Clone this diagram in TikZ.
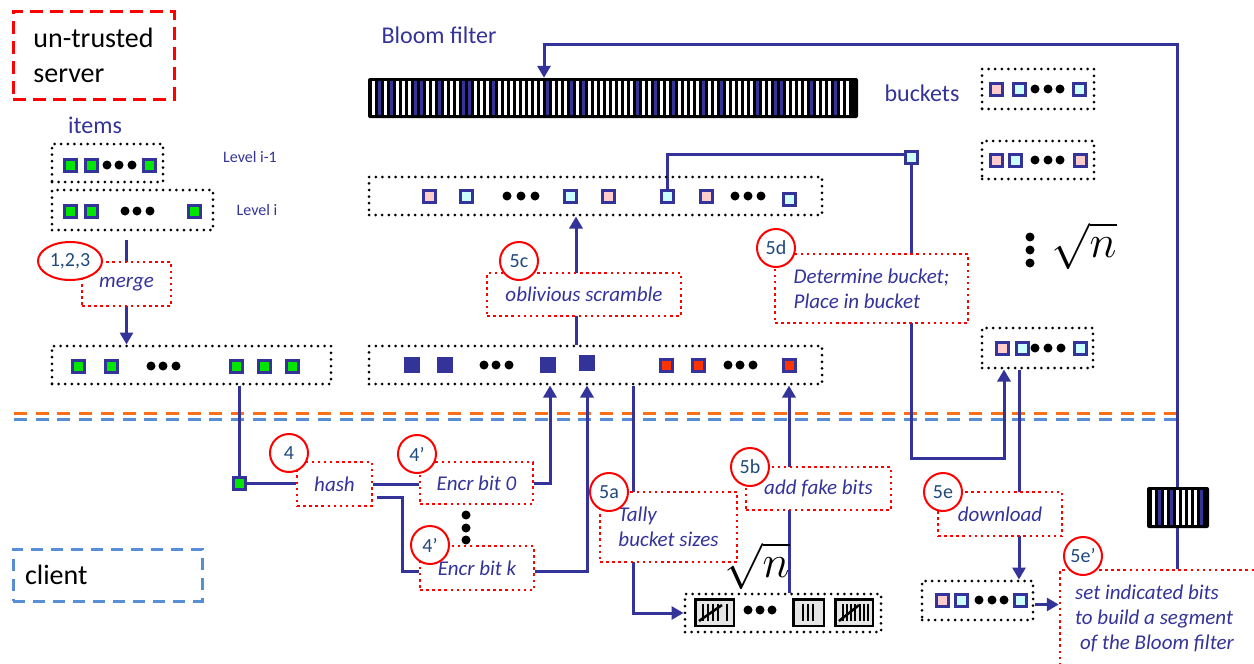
\documentclass[tikz,border=0pt]{standalone}
\usepackage{fix-cm}
\usepackage{fontspec}
\setmainfont{Carlito}
\usetikzlibrary{arrows.meta,calc,shapes.geometric}
\definecolor{navy}{RGB}{51,51,153}
\definecolor{stepblue}{RGB}{31,73,125}
\definecolor{sepOrange}{RGB}{250,112,25}
\definecolor{sepBlue}{RGB}{88,142,214}
\definecolor{pinkfill}{RGB}{255,204,204}
\definecolor{cyanfill}{RGB}{204,255,255}
\definecolor{itemgreen}{RGB}{0,230,0}
\definecolor{fakered}{RGB}{255,51,0}
\pgfdeclarelayer{back}
\pgfsetlayers{back,main}
\newcommand\lbfont{\fontsize{21}{25}\selectfont\itshape}
\begin{document}
\begin{tikzpicture}[x=1pt,y=-1pt,
  dotbox/.style={draw=black,line width=3pt,dash pattern=on 0pt off 6.6pt,line cap=round,inner sep=0pt},
  redbox/.style={draw=red,line width=2.5pt,dash pattern=on 2.5pt off 3.6pt,fill=white,inner sep=0pt,font=\lbfont,text=navy,align=left},
  stepno/.style={circle,draw=red,line width=2pt,fill=white,minimum size=38pt,inner sep=0pt,text=stepblue,font=\fontsize{20}{24}\selectfont},
  sq/.style={rectangle,draw=navy,line width=3pt,minimum size=12pt,inner sep=0pt},
  gsq/.style={sq,fill=itemgreen},
  psq/.style={sq,fill=pinkfill},
  csq/.style={sq,fill=cyanfill},
  rsq/.style={sq,fill=fakered},
  nsq/.style={rectangle,fill=navy,minimum size=16pt,inner sep=0pt},
  ell/.style={circle,fill=black,minimum size=9pt,inner sep=0pt},
  conn/.style={draw=navy,line width=3pt},
  arr/.style={-{Triangle[length=12pt,width=13pt]}},
  title/.style={text=navy,font=\fontsize{24}{28}\selectfont},
  cell/.style={draw=black,line width=2.5pt,fill=gray!20,minimum height=26.5pt,inner sep=0pt},
  bar/.style={line width=2.5pt},
  root/.style={font=\fontsize{46}{46}\selectfont,inner sep=0pt}
]
\useasboundingbox (0,0) rectangle (1254,664);

% ---- role boxes ----
\node[draw=red,line width=3pt,dash pattern=on 13pt off 7pt,minimum width=161pt,minimum height=88pt,inner sep=0pt,
      align=left,font=\fontsize{28}{35}\selectfont] (srv) at (93.5,55) {un-trusted\\server};
\node[draw=sepBlue,line width=3pt,dash pattern=on 12pt off 8pt,minimum width=189pt,minimum height=52pt,inner sep=0pt,
      text width=165pt,align=left,font=\fontsize{28}{35}\selectfont] (cli) at (107.5,575) {client};

% ---- items of levels i-1 and i ----
\node[title] (items) at (95,125) {items};
\node[dotbox,minimum width=111pt,minimum height=38pt] (lvlA) at (107.5,163) {};
\node[gsq] at (70,165) {}; \node[gsq] at (91,165) {}; \node[gsq] at (149.5,165) {};
\foreach \x in {107,119,132} \node[ell] at (\x,165) {};
\node[text=navy,font=\fontsize{16}{19}\selectfont] at (250,157) {Level i-1};

\node[dotbox,minimum width=161pt,minimum height=40pt] (lvlI) at (132.5,210) {};
\node[gsq] at (70,211) {}; \node[gsq] at (91,211) {}; \node[gsq] at (194,211) {};
\foreach \x in {125,137,150} \node[ell] at (\x,211) {};
\node[text=navy,font=\fontsize{16}{19}\selectfont] at (257,210) {Level i};

\node[redbox,minimum width=89pt,minimum height=44pt] (merge) at (126.5,284) {merge};
\node[ellipse,draw=red,line width=2pt,fill=white,minimum width=64pt,minimum height=38pt,inner sep=0pt,
      text=stepblue,font=\fontsize{20}{24}\selectfont] at (70,261) {1,2,3};

\node[dotbox,minimum width=279pt,minimum height=38pt] (merged) at (191.5,365) {};
\foreach \x in {78,111,236,264,292} \node[gsq] at (\x,366) {};
\foreach \x in {151,163,176} \node[ell] at (\x,366) {};

% ---- hashing and encryption on the client ----
\node[gsq] (gnode) at (239,483) {};
\node[redbox,minimum width=75pt,minimum height=44pt] (hash) at (334.5,484) {hash};
\node[stepno] at (289,453) {4};
\node[redbox,minimum width=113pt,minimum height=42pt] (enc0) at (476.5,483) {Encr bit 0};
\node[stepno] at (417,454) {4’};
\node[redbox,minimum width=114pt,minimum height=44pt] (enck) at (477,568) {Encr bit k};
\node[stepno] at (430,545) {4’};
\foreach \y in {515,528,540} \node[ell] at (466,\y) {};

% ---- encrypted bits on the server ----
\node[dotbox,minimum width=453pt,minimum height=38pt] (bluebox) at (595.5,365) {};
\foreach \x in {412,445,548} \node[nsq] at (\x,365) {};
\node[nsq] at (587,363) {};
\foreach \x in {666,698,789} \node[rsq] at (\x,365) {};
\foreach \x in {484,496,509,728,740,753} \node[ell] at (\x,365) {};

\node[redbox,minimum width=194pt,minimum height=43pt] (scram) at (584,294.5) {oblivious scramble};
\node[stepno] at (519,261) {5c};

\node[dotbox,minimum width=453pt,minimum height=38pt] (scr) at (595.5,196) {};
\node[psq] at (429,196) {}; \node[csq] at (466,196) {};
\node[csq] at (570,196) {}; \node[psq] at (608,196) {};
\node[csq] (s7) at (667,196) {}; \node[psq] at (706,196) {};
\node[csq] at (789,199) {};
\foreach \x in {507,521,535,735,748,761} \node[ell] at (\x,196) {};

\node[csq] (dsq) at (911,157) {};
\node[redbox,minimum width=193pt,minimum height=69pt] (place) at (871.5,288.5) {Determine bucket;\\Place in bucket};
\node[stepno] at (776,248) {5d};

% ---- Bloom filter ----
\node[title] at (439,35) {Bloom filter};
\node[fill=black,rounded corners=2pt,minimum width=490pt,minimum height=40pt,inner sep=0pt] (bloom) at (613,98) {};
\foreach \i in {0,...,79} \fill[white] (371.5+6*\i,81) rectangle ++(3.2,34);
\foreach \i in {1,3,7,8,11,15,16,20,29,33,35,44,47,50,55,58,64,67,68,73,77}
  \fill[navy] (371.5+6*\i,81) rectangle ++(3.2,34);

% ---- buckets ----
\node[title] at (922,93) {buckets};
\node[dotbox,minimum width=112pt,minimum height=40pt] (bk1) at (1038,89) {};
\node[psq] at (996,89) {}; \node[csq] at (1019,89) {}; \node[csq] at (1079,89) {};
\foreach \x in {1035,1048,1060} \node[ell] at (\x,89) {};
\node[dotbox,minimum width=112pt,minimum height=38pt] (bk2) at (1038,160) {};
\node[psq] at (996,160) {}; \node[csq] at (1015,160) {}; \node[psq] at (1080,160) {};
\foreach \x in {1035,1048,1060} \node[ell] at (\x,160) {};
\foreach \y in {237,250,263} \node[ell] at (1030,\y) {};
\node[root] at (1084,246) {$\sqrt{n}$};

\node[dotbox,minimum width=111pt,minimum height=40pt] (bkt) at (1037.5,348) {};
\node[psq] at (1002,348) {}; \node[csq] at (1022,348) {}; \node[csq] at (1080,348) {};
\foreach \x in {1035,1048,1061} \node[ell] at (\x,348) {};

% ---- download and Bloom filter segment ----
\node[redbox,minimum width=124pt,minimum height=44pt] (down) at (1000,514) {download};
\node[stepno] at (943,492) {5e};
\node[dotbox,minimum width=111pt,minimum height=39pt] (dl) at (977.5,600.5) {};
\node[psq] at (942,600) {}; \node[csq] at (961,600) {}; \node[csq] at (1020,600) {};
\foreach \x in {979,992,1004} \node[ell] at (\x,600) {};
\node[redbox,minimum width=220pt,minimum height=120pt] (sb) at (1170,630) {};
\node[anchor=west,align=left,inner sep=0pt,font=\lbfont,text=navy] at (1075,618)
  {set indicated bits\\to build a segment\\\hspace*{5pt}of the Bloom filter};
\node[stepno] at (1083,556) {5e’};

\node[fill=black,rounded corners=2pt,minimum width=62pt,minimum height=41pt,inner sep=0pt] (mini) at (1178,507.5) {};
\foreach \i in {0,...,8} \fill[white] (1151.5+6*\i,490) rectangle ++(3,35);
\foreach \i in {1,3,8} \fill[navy] (1151.5+6*\i,490) rectangle ++(3,35);

% ---- tally of bucket sizes ----
\node[redbox,minimum width=137pt,minimum height=70pt] (tally5a) at (668.5,527) {Tally\\bucket sizes};
\node[stepno] at (609,492) {5a};
\node[redbox,minimum width=145pt,minimum height=43pt] (fake) at (818.5,488.5) {add fake bits};
\node[stepno] at (750,467) {5b};
\node[dotbox,minimum width=196pt,minimum height=38pt] (tally) at (783,613) {};
\node[cell,minimum width=38.5pt] (t1) at (714.5,612.5) {};
\node[cell,minimum width=30.5pt] (t2) at (808.5,612.5) {};
\node[cell,minimum width=37.5pt] (t3) at (854,612.5) {};
\foreach \x in {703,708,713,718,727,803,808,813,843,847,851,855,860,864,868} \draw[bar] (\x,604) -- (\x,621);
\draw[bar] (699,621) -- (722,605);
\draw[bar] (839,621) -- (859,605);
\foreach \x in {748,760,772} \node[ell] at (\x,610) {};
\node[root] at (757,566) {$\sqrt{n}$};

% ---- named bend points ----
\coordinate (hk) at (402,497);
\coordinate (e0up) at (550,0 |- bluebox.south);
\coordinate (ekup) at (587,0 |- bluebox.south);
\coordinate (tl) at (633,0 |- bluebox.south);
\coordinate (fk) at (789,0 |- bluebox.south);
\coordinate (sc) at (576,0);
\coordinate (dd) at (1004,458);
\coordinate (dn) at (1019,0);
\coordinate (rt) at (1177,0);
\coordinate (tp) at (544,44);

\begin{pgfonlayer}{back}
  % server / client separation
  \draw[sepOrange,line width=3pt,dash pattern=on 13pt off 8.7pt] (14,413) -- (1183,413);
  \draw[sepBlue,line width=3pt,dash pattern=on 13pt off 8.7pt] (14,419) -- (1183,419);
  % connectors
  \draw[conn,arr,shorten <=8pt] (merge |- lvlI.south) -- (merge |- merged.north);
  \draw[conn] (gnode |- merged.south) -- (gnode);
  \draw[conn] (gnode) -- (gnode -| hash.west);
  \draw[conn] (hash.east) -- (hash.east -| enc0.west);
  \draw[conn] (hk -| hash.east) ++(4,0) -- (hk) |- ([yshift=-3pt]enck.west);
  \draw[conn,arr] (enc0.east) -| (e0up);
  \draw[conn,arr] ([yshift=-3pt]enck.east) -| (ekup);
  \draw[conn,arr] (tl) |- (tally.west);
  \draw[conn,arr] (tally.north -| fk) -- (fk);
  \draw[conn,arr] (sc |- bluebox.north) -- (sc |- scr.south);
  \draw[conn] (s7.north) |- ([yshift=3pt]dsq.west);
  \draw[conn,arr] (dsq.south) |- (dd) -- (dd |- bkt.south);
  \draw[conn,arr] (dn |- bkt.south) -- (dn |- dl.north);
  \draw[conn,arr] ([yshift=-4pt]dl.east) -- ([yshift=-4pt]dl.east -| sb.west);
  \draw[conn,arr] (rt |- sb.north) |- (tp) -- (tp |- bloom.north);
\end{pgfonlayer}
\end{tikzpicture}
\end{document}
